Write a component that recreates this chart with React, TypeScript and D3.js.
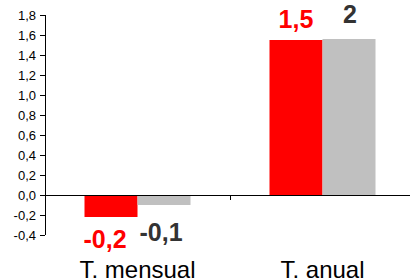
import React from "react";
import * as d3 from "d3";

const categories = ["T. mensual", "T. anual"];
const seriesRed = [-0.22, 1.55];
const seriesGray = [-0.1, 1.56];
const labelsRed = ["-0,2", "1,5"];
const labelsGray = ["-0,1", "2"];
const yTicks = [-0.4, -0.2, 0, 0.2, 0.4, 0.6, 0.8, 1.0, 1.2, 1.4, 1.6, 1.8];

export default function App() {
  const W = 410, H = 280;
  const x0 = 45, x1 = 415;
  const y = d3.scaleLinear().domain([-0.4, 1.8]).range([235, 15]);
  const xb = d3.scaleBand().domain(categories).range([x0, x1]);
  const inner = d3.scaleBand().domain(["r", "g"]).range([0, 106]);
  const off = (xb.bandwidth() - 106) / 2;
  const fmt = (v: number) => d3.format(".1f")(v).replace(".", ",").replace("−", "-");
  const font = "Liberation Sans, Arial, sans-serif";
  return (
    <svg width={W} height={H} style={{ position: "absolute", left: 0, top: 0 }} fontFamily={font}>
      {categories.map((c, i) => {
        const bx = xb(c)! + off;
        const rv = seriesRed[i], gv = seriesGray[i];
        return (
          <g key={c}>
            <rect x={bx + inner("r")!} width={inner.bandwidth()} y={Math.min(y(rv), y(0))} height={Math.abs(y(rv) - y(0))} fill="#ff0000" />
            <rect x={bx + inner("g")!} width={inner.bandwidth()} y={Math.min(y(gv), y(0))} height={Math.abs(y(gv) - y(0))} fill="#c0c0c0" />
          </g>
        );
      })}
      <line x1={x0 + 0.5} x2={x0 + 0.5} y1={y(1.8)} y2={y(-0.4)} stroke="#000" />
      {yTicks.map((t) => (
        <g key={t}>
          <line x1={x0 - 5} x2={x0} y1={Math.round(y(t)) + 0.5} y2={Math.round(y(t)) + 0.5} stroke="#000" />
          <text x={36} y={y(t) + 5} textAnchor="end" fontSize={13} fill="#000">{fmt(t)}</text>
        </g>
      ))}
      <line x1={x0} x2={x1} y1={y(0) + 0.5} y2={y(0) + 0.5} stroke="#000" />
      {categories.slice(1).map((c) => (
        <line key={c} x1={xb(c)! + 0.5} x2={xb(c)! + 0.5} y1={y(0)} y2={y(0) + 5} stroke="#000" />
      ))}
      {categories.map((c, i) => {
        const bx = xb(c)! + off;
        const rv = seriesRed[i], gv = seriesGray[i];
        const rc = bx + inner("r")! + inner.bandwidth() / 2;
        const gc = bx + inner("g")! + inner.bandwidth() / 2;
        const ry = rv < 0 ? y(rv) + 31 : y(rv) - 12;
        const gy = gv < 0 ? y(gv) + 36 : y(gv) - 16;
        const rdx = rv < 0 ? -6 : 0;
        const gdx = gv < 0 ? -3 : 1;
        return (
          <g key={c + "l"}>
            <text x={rc + rdx} y={ry} textAnchor="middle" fontSize={25} fontWeight="bold" fill="#ff0000">{labelsRed[i]}</text>
            <text x={gc + gdx} y={gy} textAnchor="middle" fontSize={25} fontWeight="bold" fill="#333333">{labelsGray[i]}</text>
            <text x={xb(c)! + xb.bandwidth() / 2} y={278} textAnchor="middle" fontSize={24} fill="#000">{c}</text>
          </g>
        );
      })}
    </svg>
  );
}
